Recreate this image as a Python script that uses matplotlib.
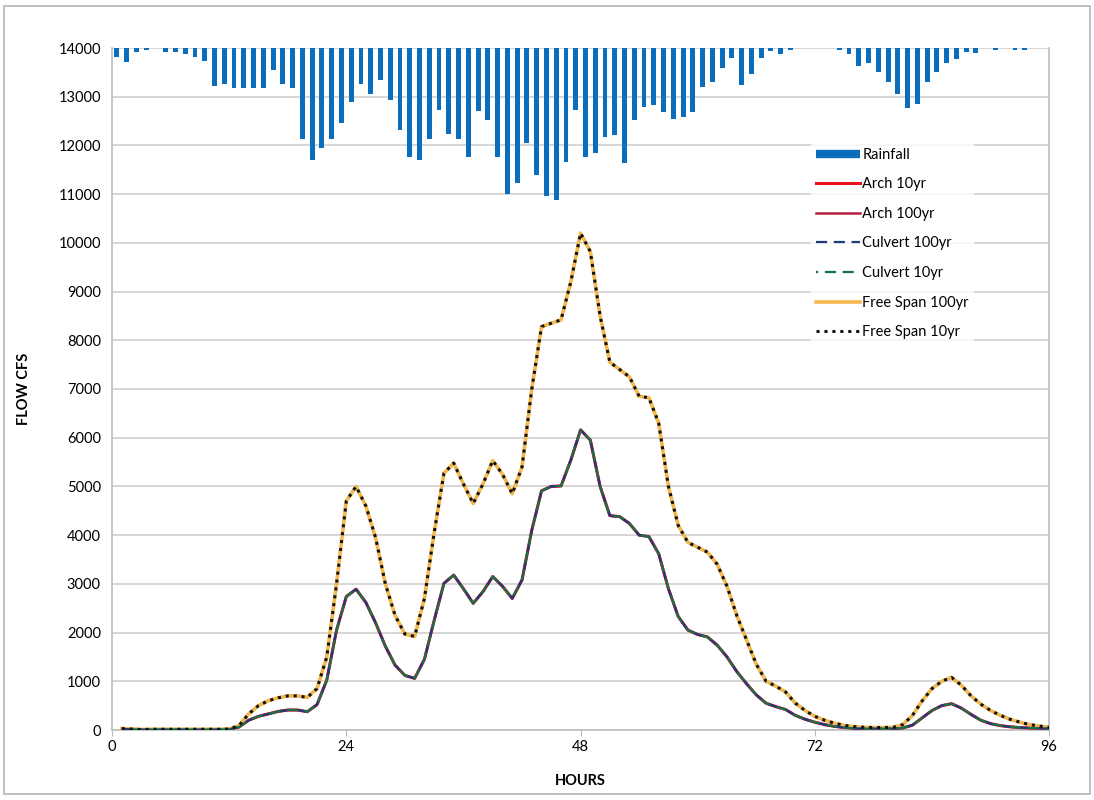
import matplotlib
matplotlib.use("Agg")
import matplotlib.pyplot as plt
from matplotlib.lines import Line2D
from matplotlib.patches import Rectangle

# hourly rainfall (in), one bar per hour, centred on the half hour
rain_hours = [h + 0.5 for h in range(96)]
rainfall = [
    0.019, 0.028, 0.008, 0.005, 0.000, 0.008, 0.008, 0.013, 0.018, 0.027,
    0.078, 0.074, 0.083, 0.083, 0.083, 0.083, 0.046, 0.074, 0.082, 0.186,
    0.229, 0.205, 0.186, 0.153, 0.111, 0.074, 0.094, 0.065, 0.106, 0.169,
    0.223, 0.229, 0.187, 0.127, 0.176, 0.187, 0.224, 0.129, 0.147, 0.224,
    0.300, 0.278, 0.196, 0.261, 0.303, 0.313, 0.233, 0.127, 0.224, 0.215,
    0.183, 0.179, 0.237, 0.148, 0.122, 0.118, 0.131, 0.145, 0.142, 0.132,
    0.080, 0.070, 0.041, 0.020, 0.075, 0.053, 0.020, 0.007, 0.012, 0.005,
    0.000, 0.000, 0.000, 0.000, 0.005, 0.012, 0.036, 0.031, 0.049, 0.070,
    0.094, 0.123, 0.114, 0.070, 0.050, 0.031, 0.022, 0.008, 0.010, 0.000,
    0.005, 0.000, 0.005, 0.005, 0.000, 0.000,
]

# flow hydrographs (cfs), hours 1..96
hours = list(range(1, 97))
arch_flow = [
    20, 15, 10, 10, 10, 10, 10, 10, 10, 10,
    10, 15, 60, 200, 280, 330, 380, 410, 410, 375,
    520, 1025, 2050, 2740, 2890, 2620, 2200, 1720, 1330, 1120,
    1060, 1450, 2250, 3010, 3180, 2900, 2600, 2840, 3150, 2950,
    2700, 3080, 4100, 4910, 5000, 5010, 5540, 6160, 5950, 5000,
    4400, 4380, 4240, 4000, 3970, 3620, 2900, 2330, 2050, 1960,
    1910, 1740, 1500, 1200, 950, 720, 550, 480, 420, 300,
    220, 160, 110, 75, 50, 35, 30, 30, 30, 30,
    40, 100, 250, 400, 500, 540, 450, 320, 200, 130,
    90, 65, 50, 40, 35, 30,
]
free_span_flow = [
    30, 20, 10, 15, 15, 15, 15, 15, 15, 15,
    15, 20, 90, 330, 500, 600, 660, 700, 700, 670,
    850, 1500, 3000, 4700, 5000, 4600, 3950, 3000, 2350, 1970,
    1920, 2700, 4050, 5270, 5480, 5050, 4650, 5050, 5530, 5250,
    4850, 5400, 7000, 8280, 8350, 8420, 9200, 10200, 9820, 8500,
    7550, 7400, 7250, 6850, 6820, 6300, 5000, 4200, 3850, 3750,
    3650, 3400, 2950, 2350, 1850, 1350, 1000, 900, 780, 550,
    400, 280, 200, 140, 95, 70, 55, 50, 50, 55,
    110, 300, 600, 850, 1000, 1080, 920, 700, 530, 400,
    300, 220, 160, 110, 80, 55,
]

y_ticks = list(range(0, 14001, 1000))
x_ticks = [0, 24, 48, 72, 96]

plt.rcParams["font.family"] = ["Lato", "DejaVu Sans"]

fig = plt.figure(figsize=(10.94, 8), dpi=100)
fig.patches.append(Rectangle((0.004, 0.007), 0.992, 0.985, transform=fig.transFigure,
                             fill=False, edgecolor="#b5b5b5", linewidth=1.2))
ax = fig.add_axes([0.1024, 0.0875, 0.8566, 0.8525])

ax.plot(hours, arch_flow, color="#e8141c", linewidth=2.2, label="Arch 10yr", zorder=3)
ax.plot(hours, arch_flow, color="#b5203c", linewidth=1.8, label="Arch 100yr", zorder=3)
ax.plot(hours, arch_flow, color="#1f3a7a", linewidth=1.6, linestyle=(0, (5, 3)),
        label="Culvert 100yr", zorder=4)
ax.plot(hours, arch_flow, color="#13724a", linewidth=1.6, linestyle=(4, (5, 3)),
        label="Culvert 10yr", zorder=4)
ax.plot(hours, free_span_flow, color="#f2b84e", linewidth=2.6, label="Free Span 100yr", zorder=3)
ax.plot(hours, free_span_flow, color="#111111", linewidth=2.2, linestyle=(0, (1, 1.6)),
        label="Free Span 10yr", zorder=4)

ax.set_xlim(0, 96)
ax.set_ylim(0, 14000)
ax.set_xticks(x_ticks)
ax.set_yticks(y_ticks)
ax.set_yticklabels([str(v) for v in y_ticks])
ax.tick_params(axis="both", labelsize=10.5, length=4, color="#bbbbbb")
ax.tick_params(axis="y", length=0, pad=8)
ax.grid(axis="y", color="#d0d0d0", linewidth=1.2)
ax.set_axisbelow(True)
for side in ["left", "bottom", "right"]:
    ax.spines[side].set_color("#bdbdbd")
    ax.spines[side].set_linewidth(1.2)
ax.spines["top"].set_visible(False)
ax.set_xlabel("HOURS", fontsize=10.5, fontweight="bold", labelpad=14)
ax.set_ylabel("FLOW CFS", fontsize=10.5, fontweight="bold", labelpad=20)

# rainfall hangs from the top on an inverted secondary axis
ax2 = ax.twinx()
ax2.bar(rain_hours, rainfall, width=0.5, color="#0a6ebd", zorder=2)
ax2.set_ylim(1.4, 0)
ax2.set_yticks([])
for side in ["left", "bottom", "right", "top"]:
    ax2.spines[side].set_visible(False)

handles = [Line2D([], [], color="#0a6ebd", linewidth=6, solid_capstyle="butt", label="Rainfall")]
handles += ax.get_lines()
leg = ax2.legend(handles=handles, loc="upper left", bbox_to_anchor=(0.735, 0.83),
                 bbox_transform=fig.transFigure, frameon=True, fontsize=10.5,
                 handlelength=3.0, handletextpad=0.2, labelspacing=1.07,
                 borderpad=0.3)
leg.get_frame().set_edgecolor("white")
leg.get_frame().set_facecolor("white")

fig.savefig("out.png", dpi=100)
